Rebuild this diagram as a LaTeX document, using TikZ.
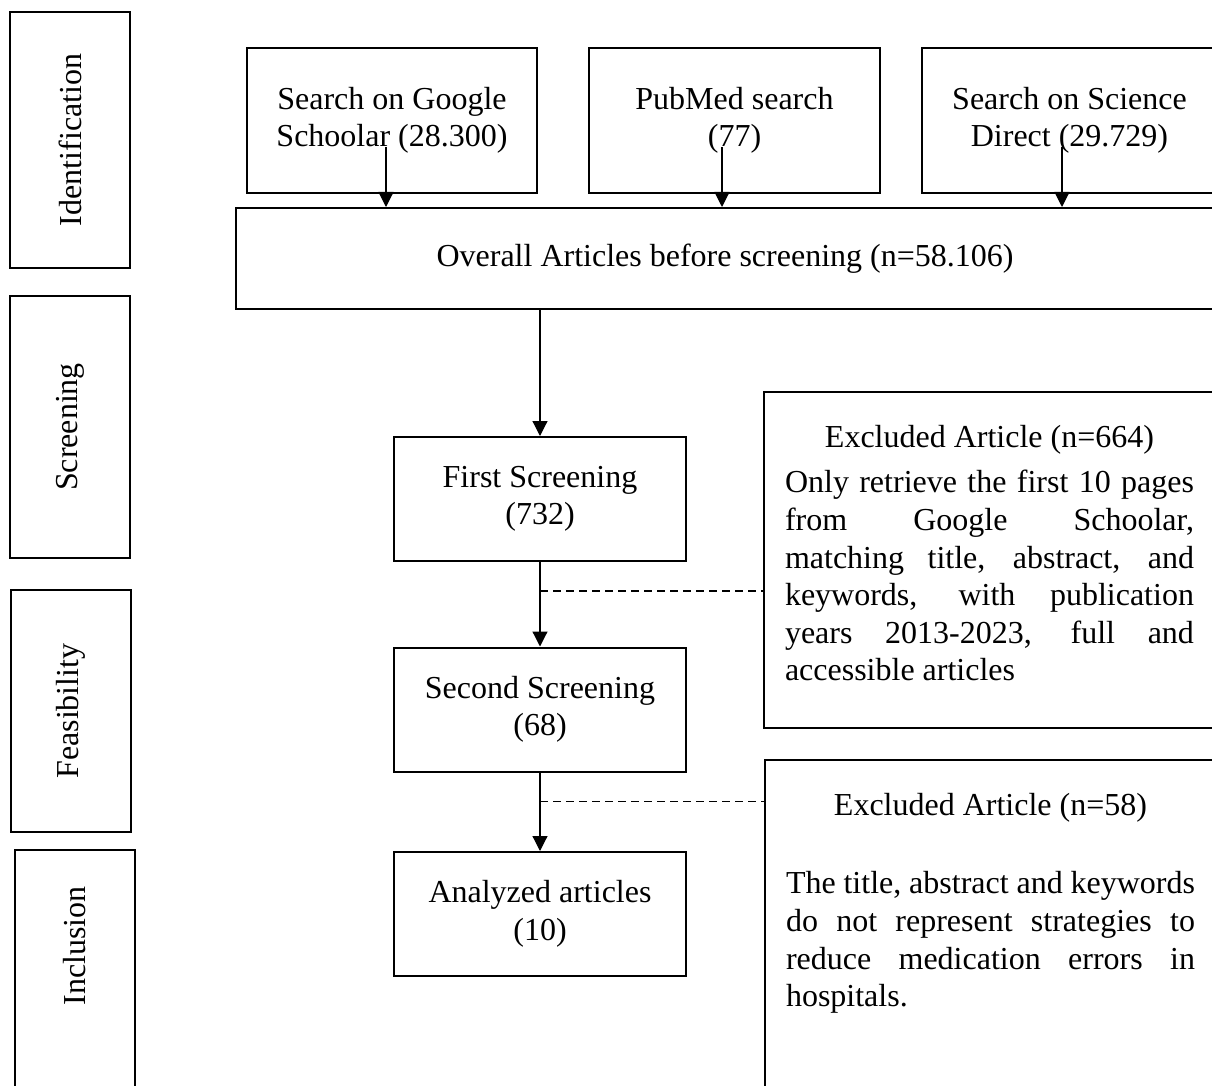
\documentclass[tikz,border=0pt]{standalone}
\usepackage{fontspec}
\setmainfont{Liberation Serif}
\usetikzlibrary{arrows.meta,calc}
\setlength{\parindent}{0pt}
\tolerance=9999
\hbadness=10000

\begin{document}
\begin{tikzpicture}[x=0.5pt,y=-0.5pt,>={Triangle[length=7.5pt,width=7.5pt]},
  font=\fontsize{16}{18.8}\selectfont,
  box/.style={draw,line width=1pt,align=center,inner sep=0pt},
  flowbox/.style={box,minimum width=146pt,minimum height=62pt},
  phase/.style={box,rotate=90,minimum height=60pt},
  excl/.style={draw,line width=1pt,anchor=north west,text width=204.5pt,align=justify,inner xsep=10.5pt,inner ysep=14.8pt},
  conn/.style={line width=0.6pt,->},
  skip/.style={line width=0.7pt,dash pattern=on 4pt off 2.5pt}]
\useasboundingbox (0,0) rectangle (1212,1086);
\clip (0,0) rectangle (1212,1086);

\node[phase,minimum width=128pt] (ident) at (70,140) {Identification};
\node[phase,minimum width=131pt] (scr) at (70,427) {Screening};
\node[phase,minimum width=121pt] (feas) at (70.5,711) {Feasibility};
\node[phase,minimum width=125pt] (incl) at (75,975) {\hspace{29pt}Inclusion};

\node[box,minimum width=145pt,minimum height=72.5pt] (google) at (392,120.5) {Search on Google\\Schoolar (28.300)};
\node[box,minimum width=145.5pt,minimum height=72.5pt] (pubmed) at (734.5,120.5) {PubMed search\\(77)};
\node[box,minimum width=147.5pt,minimum height=72.5pt] (scidir) at (1069.5,120.5) {Search on Science\\Direct (29.729)};
\node[box,minimum width=489pt,minimum height=50.5pt] (overall) at (725,258.5) {Overall Articles before screening (n=58.106)};

\node[flowbox] (first) at (540,499) {First Screening\\(732)};
\node[flowbox] (second) at (540,709.5) {Second Screening\\(68)};
\node[flowbox] (analyzed) at (540,914) {Analyzed articles\\(10)};

\node[excl] (excl1) at (763,391) {{\centering\strut Excluded Article (n=664)\par}\vspace{3.7pt}
  Only retrieve the first 10 pages\linebreak from Google Schoolar,\linebreak matching title, abstract, and\linebreak keywords, with publication\linebreak years 2013-2023, full and\linebreak accessible articles\rule[-8.6pt]{0pt}{1pt}};
\node[excl] (excl2) at (764,759) {{\centering\strut Excluded Article (n=58)\par}\vspace{20.2pt}
  The title, abstract and keywords\linebreak do not represent strategies to\linebreak reduce medication errors in\linebreak hospitals.\rule[-60pt]{0pt}{1pt}};

\foreach \n/\x in {gs/386,ps/722,ss/1062}
  {\coordinate (\n) at (\x,147);
   \draw[conn] (\n) -- (\n |- overall.north);}

\draw[conn] (first.north |- overall.south) -- (first.north);
\draw[conn] (first.south) -- (second.north);
\draw[conn] (second.south) -- (analyzed.north);

\coordinate (d1) at ($(first.south)!0.345!(second.north)$);
\coordinate (d2) at ($(second.south)!0.37!(analyzed.north)$);
\draw[skip] (d1) -- (d1 -| excl1.west);
\draw[skip] (d2) -- (d2 -| excl2.west);
\end{tikzpicture}
\end{document}
